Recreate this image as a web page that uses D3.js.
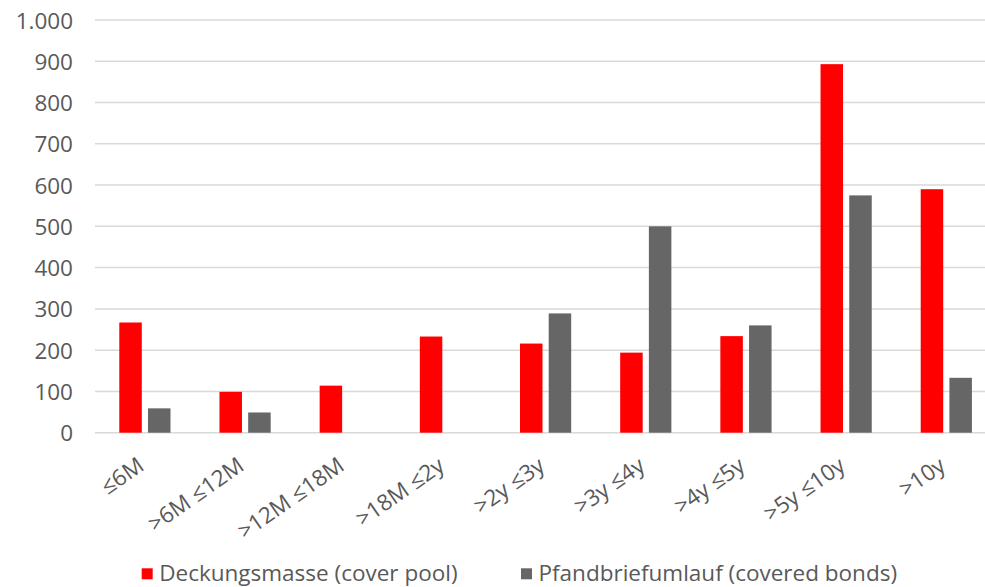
<!DOCTYPE html>
<html lang="de">
<head>
<meta charset="utf-8" />
<title>Laufzeitstruktur</title>
<script src="https://d3js.org/d3.v7.min.js"></script>
<style>
	body { margin: 0; background: #fff; }
	text { font-family: "Open Sans", "Noto Sans", sans-serif; fill: #595959; }
</style>
</head>
<body>
<div id="chart"></div>
<script>
	// categories and values
	var categories = ["≤6M", ">6M ≤12M", ">12M ≤18M", ">18M ≤2y", ">2y ≤3y", ">3y ≤4y", ">4y ≤5y", ">5y ≤10y", ">10y"];
	var coverPool = [267, 99, 114, 233, 216, 194, 234, 893, 590];
	var coveredBonds = [59, 49, 0, 0, 289, 500, 260, 575, 133];
	var seriesNames = ["Deckungsmasse (cover pool)", "Pfandbriefumlauf (covered bonds)"];
	var seriesColors = ["#ff0000", "#666666"];
	var yTicks = [0, 100, 200, 300, 400, 500, 600, 700, 800, 900, 1000];

	var width = 985, height = 587;
	var fontSize = "22.5px";

	var svg = d3.select("#chart")
		.append("svg")
		.attr("width", width)
		.attr("height", height);

	// scales
	var x = d3.scaleBand()
		.domain(categories)
		.range([94.4, 996]);

	var y = d3.scaleLinear()
		.domain([0, 1000])
		.range([432.7, 20]);

	// gridlines
	svg.append("g")
		.selectAll("line")
		.data(yTicks)
		.enter()
		.append("line")
		.attr("x1", 95)
		.attr("x2", width)
		.attr("y1", function(d) { return y(d); })
		.attr("y2", function(d) { return y(d); })
		.style("stroke", "#d9d9d9")
		.style("stroke-width", 1.5);

	// y axis
	var yAxis = svg.append("g")
		.attr("transform", "translate(73,0)")
		.call(d3.axisLeft(y).tickValues(yTicks).tickSize(0).tickPadding(0)
			.tickFormat(function(d) { return d3.format(",")(d).replace(",", "."); }));
	yAxis.select(".domain").remove();
	yAxis.attr("font-family", null).attr("font-size", null);
	yAxis.selectAll("text")
		.style("font-size", fontSize)
		.attr("dy", "0.36em");

	// bars
	var barW = 22.5;
	var groups = [coverPool, coveredBonds];
	var offsets = [-25.2, 3.5];
	groups.forEach(function(vals, s) {
		svg.append("g")
			.selectAll("rect")
			.data(vals)
			.enter()
			.append("rect")
			.attr("x", function(d, i) { return x(categories[i]) + x.bandwidth() / 2 + offsets[s]; })
			.attr("y", function(d) { return y(d); })
			.attr("width", barW)
			.attr("height", function(d) { return y(0) - y(d); })
			.style("fill", seriesColors[s]);
	});

	// x labels
	svg.append("g")
		.selectAll("text")
		.data(categories)
		.enter()
		.append("text")
		.attr("text-anchor", "end")
		.style("font-size", fontSize)
		.attr("transform", function(d) {
			var cx = x(d) + x.bandwidth() / 2 + 1;
			return "translate(" + cx + ",469) rotate(-35)";
		})
		.text(function(d) { return d; });

	// legend
	var legendX = [141.7, 521];
	seriesNames.forEach(function(name, s) {
		svg.append("rect")
			.attr("x", legendX[s])
			.attr("y", 568.3)
			.attr("width", 11)
			.attr("height", 11)
			.style("fill", seriesColors[s]);
		svg.append("text")
			.attr("x", legendX[s] + 17.5)
			.attr("y", 581)
			.style("font-size", fontSize)
			.text(name);
	});
</script>
</body>
</html>
